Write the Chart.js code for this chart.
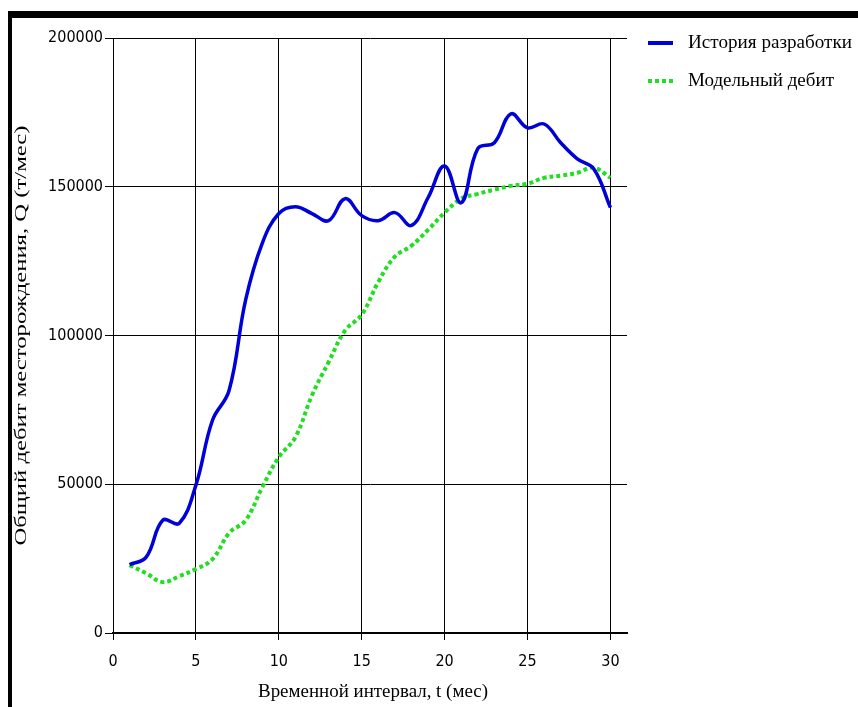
<!DOCTYPE html>
<html>
<head>
<meta charset="utf-8">
<script src="https://cdn.jsdelivr.net/npm/chart.js@4.4.1/dist/chart.umd.min.js"></script>
<style>
  html, body { margin: 0; padding: 0; background: #fff; }
  #wrap { position: relative; width: 858px; height: 707px; }
  #frame {
    position: absolute; left: 8px; top: 11px; right: 0; bottom: 0;
    border-top: 7px solid #000; border-left: 4px solid #000;
    pointer-events: none;
  }
</style>
</head>
<body>
<div id="wrap">
  <canvas id="rateChart" width="858" height="707"></canvas>
  <div id="frame"></div>
</div>
<script>
// Months of production history
const months = [1, 2, 3, 4, 5, 6, 7, 8, 9, 10, 11, 12, 13, 14, 15,
                16, 17, 18, 19, 20, 21, 22, 23, 24, 25, 26, 27, 28, 29, 30];

// Field production, actual history (t/month)
const historyRate = [23000, 25500, 37900, 36900, 49700, 71500, 81500, 112000, 131000, 141000,
                     143300, 141000, 138600, 146000, 140300, 138600, 141300, 137000, 146300, 157000,
                     144600, 162800, 164800, 174500, 169800, 171100, 164800, 159400, 156000, 143000];

// Field production, model rate (t/month)
const modelRate = [22800, 20100, 17100, 19100, 21500, 24800, 33600, 37900, 49000, 59100,
                   65800, 79900, 91000, 101700, 107000, 118000, 126500, 130200, 135500, 141300,
                   146000, 147600, 149000, 150300, 151000, 153000, 153700, 154700, 156400, 153000];

const yTicks = [0, 50000, 100000, 150000, 200000];

const seriesNames = ["История разработки", "Модельный дебит"];
const xTitle = "Временной интервал, t (мес)";
const yTitle = "Общий дебит месторождения, Q (т/мес)";

const tickFont = { family: "'Liberation Sans Narrow', 'DejaVu Sans Condensed', 'Liberation Sans', sans-serif", size: 16 };
const serif = "'Liberation Serif', 'DejaVu Serif', serif";

function toPoints(values) {
    return months.map((m, i) => ({ x: m, y: values[i] }));
}

// draw text squeezed or stretched to a given width
function fitText(ctx, text, x, y, width) {
    const w = ctx.measureText(text).width;
    ctx.save();
    ctx.translate(x, y);
    ctx.scale(width / w, 1);
    ctx.fillText(text, 0, 0);
    ctx.restore();
}

// Axis titles and the legend at the right are drawn by hand
const extraText = {
    id: "extraText",
    afterDraw(chart) {
        const ctx = chart.ctx;
        const area = chart.chartArea;
        ctx.save();
        ctx.fillStyle = "#000";
        ctx.textBaseline = "middle";

        // y axis title
        ctx.font = "17px " + serif;
        ctx.textAlign = "center";
        ctx.save();
        ctx.translate(22, (area.top + area.bottom) / 2);
        ctx.rotate(-Math.PI / 2);
        fitText(ctx, yTitle, 0, 0, 420);
        ctx.restore();

        // x axis title
        ctx.font = "18px " + serif;
        fitText(ctx, xTitle, (area.left + area.right) / 2 + 3, 692, 230);

        // legend
        const widths = [164, 146];
        const rows = [43, 81];
        chart.data.datasets.forEach((d, i) => {
            const y = rows[i];
            ctx.strokeStyle = d.borderColor;
            ctx.lineWidth = 4;
            ctx.setLineDash(d.borderDash || []);
            ctx.beginPath();
            ctx.moveTo(648, y);
            ctx.lineTo(673, y);
            ctx.stroke();
            ctx.setLineDash([]);
            ctx.font = "18px " + serif;
            ctx.textAlign = "left";
            fitText(ctx, d.label, 688, y, widths[i]);
        });
        ctx.restore();
    }
};

new Chart(document.getElementById("rateChart"), {
    type: "line",
    data: {
        datasets: [{
            label: seriesNames[0],
            data: toPoints(historyRate),
            borderColor: "#0000d8",
            borderWidth: 3.5,
            pointRadius: 0,
            tension: 0.4,
            fill: false
        }, {
            label: seriesNames[1],
            data: toPoints(modelRate),
            borderColor: "#22dd22",
            borderWidth: 4,
            borderDash: [4, 3],
            borderCapStyle: "butt",
            pointRadius: 0,
            tension: 0.4,
            fill: false
        }]
    },
    options: {
        responsive: false,
        animation: false,
        devicePixelRatio: 1,
        layout: { padding: { top: 38, right: 231, bottom: 0, left: 0 } },
        plugins: {
            legend: { display: false },
            tooltip: { enabled: false }
        },
        scales: {
            x: {
                type: "linear",
                min: 0,
                max: 31,
                grid: { color: "#000", lineWidth: 1, tickLength: 7, drawOnChartArea: true },
                border: { color: "#000", width: 2 },
                ticks: {
                    stepSize: 5,
                    includeBounds: false,
                    color: "#000",
                    font: tickFont,
                    padding: 12,
                    maxRotation: 0
                },
                afterFit(scale) { scale.height = 74; }
            },
            y: {
                min: 0,
                max: 200000,
                grid: { color: "#000", lineWidth: 1, tickLength: 8 },
                border: { color: "#000", width: 1 },
                afterBuildTicks(scale) { scale.ticks = yTicks.map(v => ({ value: v })); },
                ticks: {
                    color: "#000",
                    font: tickFont,
                    padding: 2,
                    callback: v => String(v)
                },
                afterFit(scale) { scale.width = 113; }
            }
        }
    },
    plugins: [extraText]
});
</script>
</body>
</html>
